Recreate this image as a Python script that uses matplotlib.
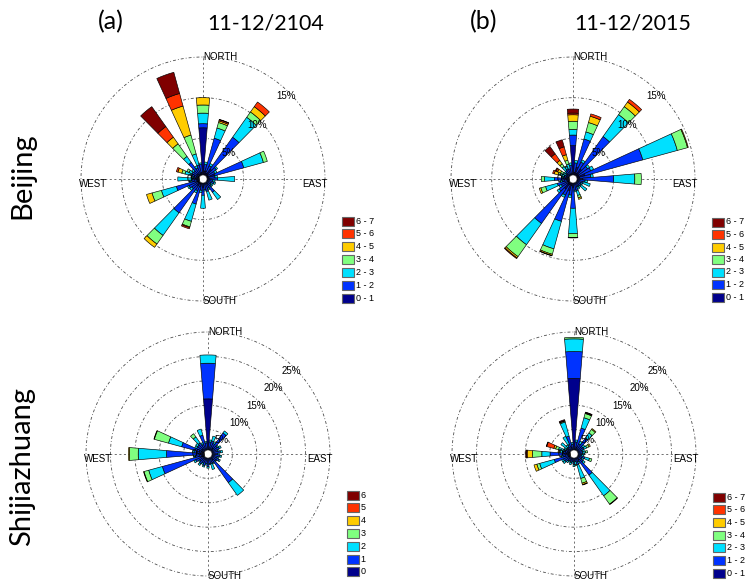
import numpy as np
import matplotlib
matplotlib.use("Agg")
import matplotlib.pyplot as plt
from matplotlib.patches import Rectangle
from matplotlib.transforms import Bbox

W, H = 749, 580

directions = np.arange(0, 360, 10)
speed_labels = ["0 - 1", "1 - 2", "2 - 3", "3 - 4", "4 - 5", "5 - 6", "6 - 7"]
speed_colors = [(0, 0, 0.55), (0, 0.2, 1), (0, 0.88, 1), (0.5, 1, 0.5),
                (1, 0.8, 0), (1, 0.2, 0), (0.5, 0, 0)]

# frequency (%) per direction (0..350 step 10), per speed bin 0-1 ... 6-7
beijing_2104 = [
    [6.3, 0.5, 1.3, 1.0, 0.9, 0, 0],
    [1.0, 0.8, 0.3, 0, 0, 0, 0],
    [1.0, 4.2, 1.3, 0.7, 0.2, 0.15, 0.05],
    [0.8, 1.0, 0.3, 0, 0, 0, 0],
    [1.5, 4.8, 3.0, 0.8, 0.8, 0.7, 0],
    [0.8, 1.2, 0.2, 0, 0, 0, 0],
    [0.7, 0.9, 0.3, 0, 0, 0, 0],
    [1.5, 3.7, 2.5, 0.5, 0, 0, 0],
    [0.7, 0.8, 0.3, 0, 0, 0, 0],
    [0.8, 1.0, 2.1, 0, 0, 0, 0],
    [0.6, 0.6, 0.3, 0, 0, 0, 0],
    [0.6, 0.8, 0.2, 0, 0, 0, 0],
    [0.5, 0.6, 0.3, 0, 0, 0, 0],
    [0.5, 0.7, 0.2, 0, 0, 0, 0],
    [0.8, 1.2, 1.1, 0, 0, 0, 0],
    [0.5, 0.8, 0.2, 0, 0, 0, 0],
    [0.6, 1.0, 1.1, 0, 0, 0, 0],
    [0.6, 0.7, 0.2, 0, 0, 0, 0],
    [1.0, 1.0, 1.6, 0, 0, 0, 0],
    [0.6, 0.8, 0.3, 0, 0, 0, 0],
    [1.0, 2.2, 2.2, 0.7, 0.1, 0.15, 0],
    [0.7, 0.9, 0.3, 0, 0, 0, 0],
    [1.0, 4.1, 3.4, 1.3, 0.5, 0, 0],
    [0.7, 1.0, 0.3, 0, 0, 0, 0],
    [0.7, 1.2, 0.2, 0, 0, 0, 0],
    [0.8, 2.6, 1.9, 1.2, 0.7, 0, 0],
    [0.6, 0.8, 0.3, 0, 0, 0, 0],
    [0.8, 0.5, 1.8, 0, 0, 0, 0],
    [0.5, 0.7, 0.3, 0, 0, 0, 0],
    [0.5, 1.0, 0.8, 0.4, 0.5, 0.2, 0],
    [0.6, 0.9, 0.4, 0.3, 0, 0, 0],
    [0.6, 0.8, 0.3, 0, 0, 0, 0],
    [0.8, 1.7, 0.9, 1.9, 1.0, 1.6, 3.0],
    [0.6, 0.9, 0.3, 0, 0, 0, 0],
    [0.8, 1.0, 1.4, 2.4, 3.7, 1.6, 2.7],
    [0.8, 1.0, 0.2, 0, 0, 0, 0],
]

beijing_2015 = [
    [4.1, 1.3, 0.7, 1.0, 0.8, 0.2, 0.5],
    [0.8, 1.2, 0.3, 0, 0, 0, 0],
    [1.5, 3.6, 0.9, 1.2, 0.8, 0.3, 0],
    [0.8, 1.5, 0.3, 0, 0, 0, 0],
    [1.5, 4.9, 3.3, 1.2, 0.7, 0.4, 0],
    [0.8, 1.4, 0.3, 0, 0, 0, 0],
    [0.8, 1.6, 0.4, 0, 0, 0, 0],
    [1.5, 7.4, 4.4, 1.3, 0.1, 0, 0],
    [0.8, 1.4, 0.3, 0, 0, 0, 0],
    [1.2, 3.8, 2.6, 0.8, 0, 0, 0],
    [0.6, 0.9, 0.3, 0, 0, 0, 0],
    [0.5, 0.8, 0.9, 0, 0, 0, 0],
    [0.5, 0.6, 0.2, 0, 0, 0, 0],
    [0.5, 0.7, 0.9, 0, 0, 0, 0],
    [0.5, 0.6, 0.2, 0, 0, 0, 0],
    [0.5, 0.6, 0.3, 0, 0, 0, 0],
    [0.5, 1.0, 0.6, 0.3, 0.2, 0, 0],
    [0.6, 0.8, 0.2, 0, 0, 0, 0],
    [1.0, 2.6, 3.1, 0.5, 0.05, 0, 0],
    [0.8, 1.2, 0.3, 0, 0, 0, 0],
    [1.5, 3.9, 3.5, 0.7, 0.15, 0.05, 0],
    [0.8, 1.4, 0.3, 0, 0, 0, 0],
    [1.5, 5.2, 3.2, 1.8, 0.2, 0.1, 0],
    [0.8, 1.3, 0.3, 0, 0, 0, 0],
    [0.6, 1.0, 0.3, 0, 0, 0, 0],
    [0.6, 1.4, 1.5, 0.6, 0.2, 0, 0],
    [0.5, 0.8, 0.3, 0, 0, 0, 0],
    [0.8, 1.5, 1.2, 0.4, 0, 0, 0],
    [0.5, 0.7, 0.2, 0, 0, 0, 0],
    [0.5, 0.6, 0.5, 0.3, 0.5, 0.2, 0],
    [0.5, 0.5, 0.4, 0.3, 0.4, 0.2, 0.1],
    [0.5, 0.6, 0.2, 0, 0, 0, 0],
    [0.6, 0.7, 0.6, 0.4, 0.5, 1.0, 1.1],
    [0.6, 0.8, 0.3, 0.1, 0, 0, 0],
    [0.6, 0.7, 0.6, 0.5, 0.7, 1.0, 0.9],
    [0.7, 1.0, 0.3, 0, 0, 0, 0],
]

shijiazhuang_2104 = [
    [11.3, 7.3, 1.7, 0, 0, 0, 0],
    [1.0, 1.5, 0.4, 0, 0, 0, 0],
    [1.0, 1.8, 1.0, 0, 0, 0, 0],
    [0.8, 1.6, 0.4, 0, 0, 0, 0],
    [1.5, 3.8, 0.5, 0, 0, 0, 0],
    [0.8, 1.5, 0.3, 0, 0, 0, 0],
    [0.8, 1.8, 0.4, 0, 0, 0, 0],
    [0.7, 1.4, 0.3, 0, 0, 0, 0],
    [0.8, 1.8, 0.4, 0, 0, 0, 0],
    [0.7, 1.3, 0.3, 0, 0, 0, 0],
    [0.8, 1.7, 0.3, 0, 0, 0, 0],
    [0.7, 1.3, 0.3, 0, 0, 0, 0],
    [0.8, 1.7, 0.3, 0, 0, 0, 0],
    [0.7, 1.3, 0.2, 0, 0, 0, 0],
    [1.5, 5.7, 3.2, 0, 0, 0, 0],
    [0.7, 1.3, 0.3, 0, 0, 0, 0],
    [0.8, 1.3, 1.2, 0, 0, 0, 0],
    [0.7, 1.3, 0.2, 0, 0, 0, 0],
    [0.8, 1.8, 0.3, 0, 0, 0, 0],
    [0.7, 1.3, 0.3, 0, 0, 0, 0],
    [0.8, 1.7, 0.3, 0, 0, 0, 0],
    [0.7, 1.4, 0.3, 0, 0, 0, 0],
    [0.8, 1.7, 0.4, 0, 0, 0, 0],
    [0.7, 1.4, 0.3, 0, 0, 0, 0],
    [0.8, 2.0, 0.4, 0, 0, 0, 0],
    [1.5, 8.2, 2.9, 1.0, 0.1, 0, 0],
    [0.8, 1.8, 0.4, 0, 0, 0, 0],
    [1.5, 7.0, 5.8, 1.8, 0.2, 0, 0],
    [0.8, 2.0, 0.4, 0, 0, 0, 0],
    [1.5, 4.1, 2.8, 3.0, 0.1, 0, 0],
    [0.8, 1.8, 0.4, 0, 0, 0, 0],
    [0.8, 1.8, 0.5, 0, 0, 0, 0],
    [0.8, 2.0, 1.5, 0.8, 0, 0, 0],
    [0.7, 1.5, 0.4, 0, 0, 0, 0],
    [1.0, 3.0, 1.3, 0, 0, 0, 0],
    [0.8, 1.5, 0.3, 0, 0, 0, 0],
]

shijiazhuang_2015 = [
    [15.5, 5.5, 2.6, 0.3, 0, 0, 0],
    [1.0, 1.5, 0.4, 0, 0, 0, 0],
    [1.5, 4.0, 2.2, 0.9, 0.1, 0.1, 0.1],
    [0.8, 1.5, 0.6, 0, 0, 0, 0],
    [1.0, 3.0, 1.3, 0.9, 0.2, 0, 0],
    [0.8, 1.4, 0.5, 0, 0, 0, 0],
    [0.8, 1.5, 0.6, 0.5, 0.3, 0, 0],
    [0.6, 1.2, 0.4, 0, 0, 0, 0],
    [0.6, 1.2, 0.6, 0.4, 0, 0, 0],
    [0.6, 1.2, 0.4, 0, 0, 0, 0],
    [0.6, 1.0, 0.4, 0, 0, 0, 0],
    [0.8, 1.5, 1.0, 0.5, 0, 0, 0],
    [0.6, 1.2, 0.4, 0, 0, 0, 0],
    [0.8, 1.5, 0.5, 0, 0, 0, 0],
    [1.5, 3.8, 5.2, 2.1, 0.1, 0, 0],
    [0.6, 1.2, 0.4, 0, 0, 0, 0],
    [0.8, 1.5, 2.9, 1.0, 0.3, 0.1, 0],
    [0.6, 1.0, 0.6, 0.2, 0, 0, 0],
    [0.8, 1.4, 0.4, 0, 0, 0, 0],
    [0.6, 1.0, 0.3, 0, 0, 0, 0],
    [0.6, 1.2, 0.5, 0, 0, 0, 0],
    [0.6, 1.0, 0.3, 0, 0, 0, 0],
    [0.6, 1.2, 0.4, 0, 0, 0, 0],
    [0.8, 1.5, 0.5, 0, 0, 0, 0],
    [0.8, 1.6, 0.4, 0, 0, 0, 0],
    [1.0, 3.2, 3.1, 0.6, 0.6, 0, 0],
    [0.8, 1.5, 0.4, 0, 0, 0, 0],
    [1.2, 3.7, 1.7, 1.9, 1.1, 0.1, 0.2],
    [0.8, 1.5, 0.5, 0.2, 0.3, 0, 0],
    [0.6, 1.5, 1.2, 0.6, 0.4, 1.5, 0.1],
    [0.6, 1.2, 0.5, 0, 0, 0, 0],
    [0.5, 1.3, 1.5, 0, 0, 0, 0],
    [0.6, 1.2, 0.5, 0, 0, 0, 0],
    [0.6, 1.6, 1.8, 0, 0, 0, 0],
    [1.5, 2.3, 3.0, 0.2, 0, 0.1, 0.2],
    [0.8, 1.2, 0.4, 0, 0, 0, 0],
]

top_rings = [5, 10, 15]
bottom_rings = [5, 10, 15, 20, 25]

plt.rcParams["font.family"] = ["Liberation Sans", "DejaVu Sans"]

fig = plt.figure(figsize=(W / 100, H / 100), dpi=100)
RADIUS = 122  # px of outermost ring


def polar_axes(cx, cy):
    rect = [(cx - RADIUS) / W, 1 - (cy + RADIUS) / H, 2 * RADIUS / W, 2 * RADIUS / H]
    ax = fig.add_axes(rect, projection="polar")
    ax.set_theta_zero_location("N")
    ax.set_theta_direction(-1)
    ax.set_axis_off()
    return ax


def draw_rose(ax, freq, rings, label_off):
    freq = np.array(freq, dtype=float)
    rmax = rings[-1]
    ax.set_ylim(0, rmax)
    t = np.linspace(0, 2 * np.pi, 361)
    dash = (0, (3.5, 2.5, 1, 2.5))
    for r in rings:
        ax.plot(t, np.full_like(t, r), color="0.3", lw=0.6, ls=dash,
                clip_on=False, zorder=1)
    for a in (0, np.pi / 2, np.pi, 3 * np.pi / 2):
        ax.plot([a, a], [0, rmax], color="0.35", lw=0.6, ls=(0, (2.5, 3)),
                clip_on=False, zorder=1)

    theta = np.deg2rad(directions)
    base = np.zeros(len(directions))
    for k in range(len(speed_labels)):
        h = freq[:, k]
        m = h > 0
        ax.bar(theta[m], h[m], width=np.deg2rad(9.4), bottom=base[m],
               color=speed_colors[k], edgecolor="black", linewidth=0.45,
               zorder=2)
        base += h

    # white hub
    hub = rmax * 4.0 / RADIUS
    ax.fill(t, np.full_like(t, hub), color="white", ec="0.2", lw=0.4, zorder=3)
    ax.text(np.deg2rad(265), hub * 0.6, "0%", ha="right", va="center",
            fontsize=7, zorder=4)

    for r in rings:
        ax.text(np.deg2rad(45), r - label_off, f"{r}%", ha="center",
                va="center", fontsize=7, zorder=4)

    kw = dict(fontsize=7, zorder=4, clip_on=False)
    ax.text(0, rmax, "NORTH", ha="left", va="center", **kw)
    ax.text(np.pi, rmax, "SOUTH", ha="left", va="center", **kw)
    ax.text(np.pi / 2, rmax * 1.02, "EAST", ha="right", va="top", **kw)
    ax.text(3 * np.pi / 2, rmax * 1.02, "WEST", ha="left", va="top", **kw)


def draw_legend(x, y_top, step, clip_x=None):
    for i, k in enumerate(range(len(speed_labels) - 1, -1, -1)):
        yc = y_top + i * step
        fig.patches.append(Rectangle((x / W, 1 - (yc + 4.5) / H), 11.5 / W, 9 / H,
                                     transform=fig.transFigure,
                                     facecolor=speed_colors[k],
                                     edgecolor="0.4", linewidth=0.8))
        txt = fig.text((x + 14) / W, 1 - yc / H, speed_labels[k],
                       ha="left", va="center", fontsize=6.5)
        if clip_x is not None:
            txt.set_clip_box(Bbox.from_extents(0, 0, clip_x, H))
            txt.set_clip_on(True)


panels = [
    (203, 179, beijing_2104, top_rings, 0.55, (342, 221, 12.9, None)),
    (573, 179, beijing_2015, top_rings, 0.55, (712, 222, 12.5, None)),
    (208, 454, shijiazhuang_2104, bottom_rings, 1.0, (347, 495, 12.8, 368)),
    (574, 454, shijiazhuang_2015, bottom_rings, 1.0, (713, 497, 12.7, None)),
]
for cx, cy, data, rings, off, leg in panels:
    ax = polar_axes(cx, cy)
    draw_rose(ax, data, rings, off)
    draw_legend(*leg)

title_font = ["Lato", "DejaVu Sans"]
fig.text(111 / W, 1 - 22 / H, "(a)", ha="center", va="center", fontsize=18, family=title_font)
fig.text(266 / W, 1 - 23 / H, "11-12/2104", ha="center", va="center", fontsize=15.5, family=title_font)
fig.text(484 / W, 1 - 22 / H, "(b)", ha="center", va="center", fontsize=18, family=title_font)
fig.text(633 / W, 1 - 23 / H, "11-12/2015", ha="center", va="center", fontsize=15.5, family=title_font)
fig.text(22 / W, 1 - 176 / H, "Beijing", rotation=90, ha="center", va="center", fontsize=21, family=title_font)
fig.text(22 / W, 1 - 466 / H, "Shijiazhuang", rotation=90, ha="center", va="center", fontsize=21, family=title_font)

fig.savefig("out.png", dpi=100)
